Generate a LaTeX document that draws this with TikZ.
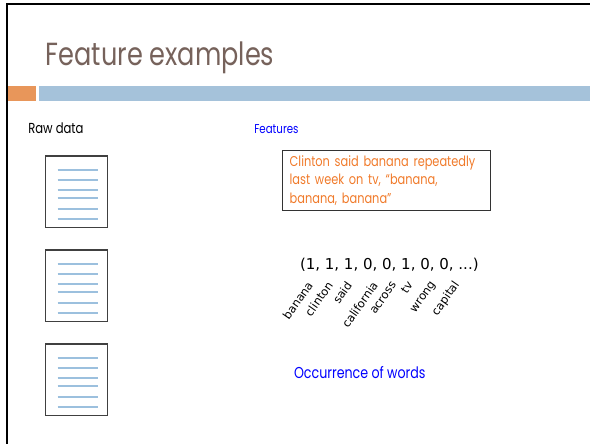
\documentclass[tikz,border=0pt]{standalone}
\usepackage{fontspec}
\usepackage{xcolor}
\usepackage{tikz}
\usetikzlibrary{positioning}

\newfontfamily\slidefont[FakeStretch=0.8]{Poppins}
\newfontfamily\vecfont{DejaVu Sans}

\definecolor{titlebrown}{HTML}{76625B}
\definecolor{baror}{HTML}{E8965A}
\definecolor{barblue}{HTML}{A5C2DA}
\definecolor{txtor}{HTML}{F07A2A}
\definecolor{linebl}{HTML}{9CC0DE}

\begin{document}
\begin{tikzpicture}[
      x=1pt, y=-1pt,
      every node/.style={inner sep=0pt, outer sep=0pt},
      heading/.style={font=\slidefont\fontsize{14.5}{16}\selectfont, anchor=base west},
      docpage/.style={
        draw=black!75, line width=1.1pt, fill=white,
        minimum width=62pt, minimum height=71.5pt, anchor=north west
      },
      docline/.style={draw=linebl, line width=1.4pt},
      quote/.style={
        draw=black!80, line width=0.8pt, anchor=north west,
        text width=194pt, align=left, inner xsep=7pt, inner ysep=5.5pt,
        font=\slidefont\fontsize{14.2}{18.5}\selectfont, text=txtor
      },
      word/.style={font=\vecfont\fontsize{11.5}{13}\selectfont, rotate=55, anchor=east}
    ]
    \useasboundingbox (0,0) rectangle (590,444);

    % frame and title bars
    \draw[line width=2pt] (7,444) -- (7,4) -- (590,4);
    \fill[baror] (8,86) rectangle (36,100.7);
    \fill[barblue] (39,86) rectangle (590,100.7);
    \node[font=\slidefont\fontsize{32}{36}\selectfont, text=titlebrown, anchor=base west]
      (title) at (45.7,65.7) {Feature examples};

    % column headings
    \node[heading] (raw) at (28.3,134) {Raw data};
    \node[heading, font=\slidefont\fontsize{12.8}{15}\selectfont, text=blue]
      (feat) at (254.3,133.3) {Features};

    % documents
    \foreach \i/\y in {1/156,2/250,3/344} {
      \node[docpage] (doc\i) at (45.7,\y) {};
      \foreach \d in {14,24,34,42,53,63}
        \draw[docline] ([xshift=12pt,yshift=-\d pt]doc\i.north west) -- ++(40,0);
    }

    % sentence
    \node[quote] (sent) at (282.7,150)
      {Clinton said banana repeatedly\\ last week on tv, “banana,\\ banana, banana”};

    % feature vector
    \node[font=\vecfont\fontsize{15}{17}\selectfont, anchor=base west]
      (vec) at (300,269.3) {(1, 1, 1, 0, 0, 1, 0, 0, ...)};
    \foreach \w/\x in {banana/310,clinton/330,said/349,california/375,
                       across/394,tv/410,wrong/434,capital/457}
      \node[word] (w-\w) at (\x,283) {\w};

    \node[heading, font=\slidefont\fontsize{15.8}{18}\selectfont, text=blue]
      (occ) at (294,378.3) {Occurrence of words};
\end{tikzpicture}
\end{document}
